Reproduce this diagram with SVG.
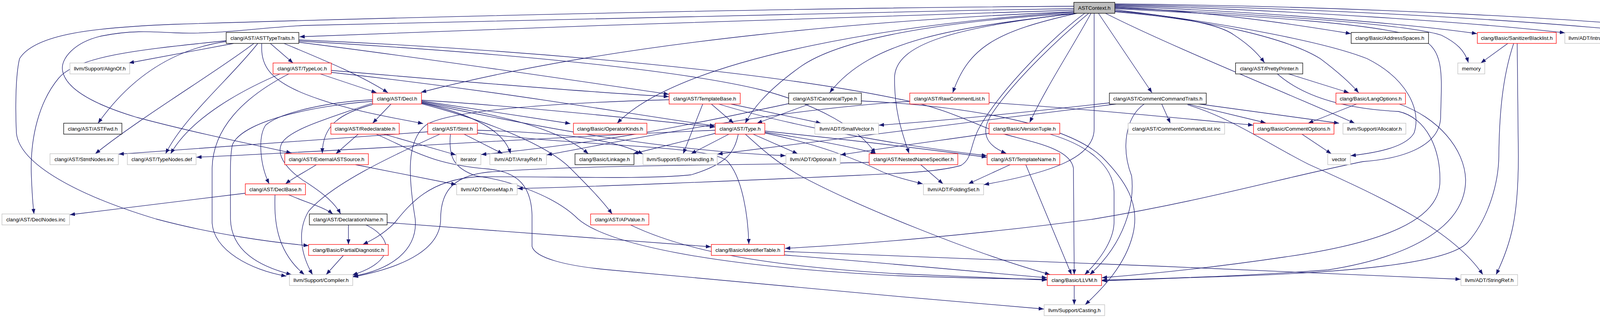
<svg xmlns="http://www.w3.org/2000/svg" width="4599" height="813" viewBox="0 0 4599 813">
<defs>
<marker id="a" viewBox="0 0 13 10" refX="13" refY="5" markerWidth="13" markerHeight="10" markerUnits="userSpaceOnUse" orient="auto"><path d="M0,0 L13,5 L0,10 z" fill="#191970"/></marker>
<style>
.e path{fill:none;stroke:#191970;stroke-width:1.3;marker-end:url(#a)}
.n rect{fill:#fff;stroke-width:1.3}
.root rect{fill:#bfbfbf;stroke:#000}
.blk rect{stroke:#000}
.red rect{stroke:#f00}
.gry rect{stroke:#bfbfbf}
.n text{font-family:"Liberation Sans",Arial,sans-serif;font-size:13.33px;text-anchor:middle;fill:#000}
</style>
</defs>
<rect width="4599" height="813" fill="#fff"/>
<g id="edges" class="e">
<path d="M2749,26 C2300,36 1400,70 767,94"/>
<path d="M2749,16 C2000,20 1000,45 448,62 C250,70 90,85 50,150 C38,200 40,300 42,340 C50,420 200,500 400,560 C550,600 700,620 790,628"/>
<path d="M2749,22 C2000,35 1200,50 780,65 C650,72 560,88 450,84 C380,80 330,78 260,92 C190,108 155,150 160,180 C168,230 250,270 350,300 C500,340 650,370 746,391"/>
<path d="M2749,30 C2300,48 1600,100 1078,236"/>
<path d="M2749,31 C2350,55 1750,140 1580,315"/>
<path d="M2752,34 C2400,55 2150,100 2050,170 C1980,220 1930,270 1908,315"/>
<path d="M2755,34 C2450,70 2230,100 2124,237"/>
<path d="M2752,34 C2450,70 2290,110 2290,200 C2290,290 2310,340 2327,392"/>
<path d="M2757,34 C2550,80 2480,120 2439,237"/>
<path d="M2793,34 C2740,130 2680,220 2636,313"/>
<path d="M2787,34 C2720,90 2600,200 2540,290 C2510,335 2520,370 2576,392"/>
<path d="M2777,34 C2700,90 2560,230 2505,330 C2482,375 2490,405 2460,423 C2400,440 2300,443 2200,448 C1900,462 1500,478 1325,482"/>
<path d="M2801,34 L2801,330 C2801,400 2700,440 2519,472"/>
<path d="M2854,22 C3200,40 3550,60 3640,100 C3700,130 3690,200 3688,300 C3686,370 3600,405 3490,413 C3300,450 3100,510 2800,560 C2500,600 2200,625 2010,635"/>
<path d="M2854,25 C3150,60 3400,110 3500,150 C3600,200 3640,280 3620,340 C3600,375 3530,390 3458,398"/>
<path d="M2854,18 C3100,30 3300,60 3458,86"/>
<path d="M2854,16 C3200,28 3600,60 3781,86"/>
<path d="M2854,20 C3200,35 3600,60 3690,90 C3730,110 3750,130 3759,160"/>
<path d="M2854,14 C3300,24 3800,60 4006,84"/>
<path d="M2854,12 C3400,20 3950,55 4225,84"/>
<path d="M2854,10 C3500,16 4100,50 4407,84"/>
<path d="M2854,28 C3000,40 3120,60 3160,90 C3190,110 3215,130 3237,160"/>
<path d="M2854,30 C3100,50 3300,100 3380,150 C3420,180 3455,210 3478,237"/>
<path d="M2830,34 C3000,120 3300,240 3468,315"/>
<path d="M2812,34 L2949,237"/>
<path d="M598,111 L330,161"/>
<path d="M579,106 C450,125 340,190 251,315"/>
<path d="M692,111 L750,161"/>
<path d="M650,111 C560,180 360,300 244,393"/>
<path d="M660,111 C590,200 470,300 424,393"/>
<path d="M579,104 C380,125 200,140 150,200 C100,260 78,350 80,440 C82,500 85,530 87,547"/>
<path d="M727,111 C820,150 920,190 993,237"/>
<path d="M670,111 C668,160 680,200 780,240 C880,280 1000,300 1083,316"/>
<path d="M765,108 C1100,150 1500,210 1712,241"/>
<path d="M765,105 C1200,130 1700,170 1950,230 C2100,270 2200,330 2241,392"/>
<path d="M765,102 C1200,120 1900,170 2300,253 C2420,275 2500,320 2560,340 C2650,365 2740,380 2748,430 L2750,702"/>
<path d="M817,188 L964,237"/>
<path d="M719,188 C620,230 490,300 437,393"/>
<path d="M741,188 C620,250 545,330 543,430 L543,570 C548,640 640,690 733,706"/>
<path d="M848,180 C1200,210 1500,235 1712,247"/>
<path d="M848,185 C1300,235 1600,290 1830,322"/>
<path d="M1001,266 L954,315"/>
<path d="M954,267 C870,290 826,320 825,392"/>
<path d="M954,255 C850,260 720,285 680,320 C660,350 665,420 689,470"/>
<path d="M954,259 C800,270 620,310 595,370 C588,400 590,450 590,560 C592,640 660,680 746,702"/>
<path d="M954,263 C850,300 740,330 721,367 C705,400 740,440 790,470 C820,490 855,515 872,547"/>
<path d="M1079,263 C1200,290 1290,330 1307,393"/>
<path d="M1079,258 L1460,316"/>
<path d="M1079,260 C1250,290 1420,320 1506,393"/>
<path d="M1079,256 C1300,270 1600,300 1830,325"/>
<path d="M1079,265 C1250,310 1400,370 1460,430 C1500,470 1540,510 1567,547"/>
<path d="M1079,262 C1400,330 1700,385 2011,398"/>
<path d="M917,343 L860,393"/>
<path d="M983,343 L1167,396"/>
<path d="M963,343 C1050,380 1100,420 1250,432 C1330,440 1360,480 1362,550 L1362,630 C1370,660 1450,680 1560,690 C1900,720 2300,760 2672,790"/>
<path d="M1095,337 C900,350 600,375 304,394"/>
<path d="M1188,343 L1287,393"/>
<path d="M1126,343 C1000,400 850,470 790,540 C760,590 770,650 800,702"/>
<path d="M1222,333 C1400,338 1560,350 1646,394"/>
<path d="M1153,343 C1148,400 1160,430 1220,450 C1300,460 1420,500 1480,560 C1550,620 1800,680 2300,705 C2500,712 2600,713 2680,714"/>
<path d="M1222,340 C1500,375 1800,370 1860,410 C1900,450 1915,550 1917,624"/>
<path d="M628,494 L179,549"/>
<path d="M704,498 C702,560 705,640 779,702"/>
<path d="M739,498 C790,520 830,530 852,547"/>
<path d="M810,421 C780,440 750,455 731,470"/>
<path d="M910,421 L1168,472"/>
<path d="M892,575 L892,625"/>
<path d="M937,575 C1010,610 1010,670 902,703"/>
<path d="M991,569 C1300,590 1600,615 1820,631"/>
<path d="M879,653 L835,702"/>
<path d="M1821,266 L1878,315"/>
<path d="M1799,266 L1749,393"/>
<path d="M1871,266 L2102,315"/>
<path d="M1713,255 C1450,262 1150,280 1090,320 C1040,360 1045,450 1063,560 C1070,640 1000,690 904,706"/>
<path d="M1840,266 C1950,300 2200,360 2526,398"/>
<path d="M2072,266 L1938,315"/>
<path d="M2019,265 C1850,300 1600,360 1232,395"/>
<path d="M2205,258 C2450,270 2720,310 2820,400 C2880,460 2920,520 2900,600 C2880,680 2820,740 2778,779"/>
<path d="M2532,262 C2800,280 3050,305 3208,320"/>
<path d="M2329,259 C2000,280 1700,340 1400,396"/>
<path d="M2974,266 L2996,315"/>
<path d="M3040,266 L3240,314"/>
<path d="M3070,266 L3428,315"/>
<path d="M2929,266 C2880,300 2870,380 2897,450 C2905,520 2880,620 2790,702"/>
<path d="M3040,268 C3150,300 3250,370 3350,420 C3550,510 3720,590 3796,702"/>
<path d="M2840,263 C2600,290 2400,310 2250,320"/>
<path d="M2857,266 C2500,310 2100,360 1837,394"/>
<path d="M2688,343 C2780,370 2850,420 2852,490 L2852,570 C2850,620 2810,670 2777,702"/>
<path d="M2532,341 C2400,360 2250,380 2152,396"/>
<path d="M2586,421 L2479,470"/>
<path d="M2626,421 L2743,702"/>
<path d="M2357,421 L2414,470"/>
<path d="M2225,415 C2000,422 1500,420 1250,440 C1150,450 1128,500 1128,560 C1128,630 1050,680 904,708"/>
<path d="M1831,333 C1400,350 900,385 503,402"/>
<path d="M1866,343 L1769,393"/>
<path d="M1928,343 L2042,393"/>
<path d="M1958,338 C2100,360 2200,380 2242,393"/>
<path d="M1958,335 C2200,360 2400,385 2526,402"/>
<path d="M1908,343 C1950,380 1980,410 2050,450 C2200,530 2500,650 2688,702"/>
<path d="M1831,341 L1621,393"/>
<path d="M1890,343 C1880,390 1860,420 1769,447 C1650,460 1400,450 1220,452 C1100,460 1050,520 1010,570 C980,600 950,615 929,625"/>
<path d="M1958,340 C2100,370 2200,410 2260,440 C2300,455 2330,462 2362,470"/>
<path d="M3473,266 L3349,315"/>
<path d="M3582,266 C3680,300 3750,380 3752,460 C3752,560 3650,650 3400,690 C3200,705 3000,712 2821,716"/>
<path d="M3296,188 L3453,237"/>
<path d="M3269,188 C3350,260 3480,280 3580,285 C3650,300 3690,380 3686,470 C3680,560 3550,620 3289,657 C3100,685 2950,700 2821,710"/>
<path d="M3333,343 L3408,393"/>
<path d="M3860,111 L3791,161"/>
<path d="M3875,111 C3845,200 3838,300 3837,400 C3836,470 3810,560 3757,620 C3700,680 3400,700 3040,710 L2821,718"/>
<path d="M3884,111 L3887,400 C3887,550 3870,620 3830,702"/>
<path d="M2750,730 L2750,779"/>
<path d="M2008,652 C2300,675 2500,695 2680,710"/>
<path d="M2008,643 C2500,660 3200,690 3739,714"/>
<path d="M1614,575 C1750,640 1950,680 2300,700 C2500,708 2600,712 2680,716"/>
</g>
<g id="ASTContext" class="n root"><rect x="2749" y="6" width="105" height="28"/><text x="2801.5" y="24.7">ASTContext.h</text></g>
<g id="ASTTypeTraits" class="n blk"><rect x="579" y="83" width="186" height="28"/><text x="672" y="101.7">clang/AST/ASTTypeTraits.h</text></g>
<g id="AddressSpaces" class="n blk"><rect x="3459" y="83" width="198" height="28"/><text x="3558" y="101.7">clang/Basic/AddressSpaces.h</text></g>
<g id="SanitizerBlacklist" class="n red"><rect x="3782" y="83" width="202" height="28"/><text x="3883" y="101.7">clang/Basic/SanitizerBlacklist.h</text></g>
<g id="IntrusiveRefCntPtr" class="n gry"><rect x="4006" y="83" width="196" height="28"/><text x="4104" y="101.7">llvm/ADT/IntrusiveRefCntPtr.h</text></g>
<g id="SmallPtrSet" class="n gry"><rect x="4226" y="83" width="158" height="28"/><text x="4305" y="101.7">llvm/ADT/SmallPtrSet.h</text></g>
<g id="TinyPtrVector" class="n gry"><rect x="4407" y="83" width="168" height="28"/><text x="4491" y="101.7">llvm/ADT/TinyPtrVector.h</text></g>
<g id="AlignOf" class="n gry"><rect x="179" y="161" width="153" height="28"/><text x="255.5" y="179.7">llvm/Support/AlignOf.h</text></g>
<g id="TypeLoc" class="n red"><rect x="699" y="161" width="149" height="28"/><text x="773.5" y="179.7">clang/AST/TypeLoc.h</text></g>
<g id="PrettyPrinter" class="n blk"><rect x="3163" y="161" width="172" height="28"/><text x="3249" y="179.7">clang/AST/PrettyPrinter.h</text></g>
<g id="memory" class="n gry"><rect x="3732" y="161" width="69" height="28"/><text x="3766.5" y="179.7">memory</text></g>
<g id="Decl" class="n red"><rect x="954" y="238" width="125" height="28"/><text x="1016.5" y="256.7">clang/AST/Decl.h</text></g>
<g id="TemplateBase" class="n red"><rect x="1713" y="238" width="182" height="28"/><text x="1804" y="256.7">clang/AST/TemplateBase.h</text></g>
<g id="CanonicalType" class="n blk"><rect x="2019" y="238" width="186" height="28"/><text x="2112" y="256.7">clang/AST/CanonicalType.h</text></g>
<g id="RawCommentList" class="n red"><rect x="2329" y="238" width="203" height="28"/><text x="2430.5" y="256.7">clang/AST/RawCommentList.h</text></g>
<g id="CommentCommandTraits" class="n blk"><rect x="2840" y="238" width="248" height="28"/><text x="2964" y="256.7">clang/AST/CommentCommandTraits.h</text></g>
<g id="LangOptions" class="n red"><rect x="3420" y="238" width="178" height="28"/><text x="3509" y="256.7">clang/Basic/LangOptions.h</text></g>
<g id="ASTFwd" class="n blk"><rect x="163" y="315" width="149" height="28"/><text x="237.5" y="333.7">clang/AST/ASTFwd.h</text></g>
<g id="Redeclarable" class="n red"><rect x="847" y="315" width="175" height="28"/><text x="934.5" y="333.7">clang/AST/Redeclarable.h</text></g>
<g id="Stmt" class="n red"><rect x="1095" y="315" width="127" height="28"/><text x="1158.5" y="333.7">clang/AST/Stmt.h</text></g>
<g id="OperatorKinds" class="n red"><rect x="1468" y="315" width="188" height="28"/><text x="1562" y="333.7">clang/Basic/OperatorKinds.h</text></g>
<g id="Type" class="n red"><rect x="1831" y="315" width="127" height="28"/><text x="1894.5" y="333.7">clang/AST/Type.h</text></g>
<g id="SmallVector" class="n gry"><rect x="2086" y="315" width="163" height="28"/><text x="2167.5" y="333.7">llvm/ADT/SmallVector.h</text></g>
<g id="VersionTuple" class="n red"><rect x="2532" y="315" width="181" height="28"/><text x="2622.5" y="333.7">clang/Basic/VersionTuple.h</text></g>
<g id="CommentCommandList" class="n gry"><rect x="2888" y="315" width="247" height="28"/><text x="3011.5" y="333.7">clang/AST/CommentCommandList.inc</text></g>
<g id="CommentOptions" class="n red"><rect x="3209" y="315" width="206" height="28"/><text x="3312" y="333.7">clang/Basic/CommentOptions.h</text></g>
<g id="Allocator" class="n gry"><rect x="3438" y="315" width="161" height="28"/><text x="3518.5" y="333.7">llvm/Support/Allocator.h</text></g>
<g id="StmtNodes" class="n gry"><rect x="128" y="393" width="175" height="28"/><text x="215.5" y="411.7">clang/AST/StmtNodes.inc</text></g>
<g id="TypeNodes" class="n gry"><rect x="326" y="393" width="176" height="28"/><text x="414" y="411.7">clang/AST/TypeNodes.def</text></g>
<g id="ExternalASTSource" class="n red"><rect x="729" y="393" width="214" height="28"/><text x="836" y="411.7">clang/AST/ExternalASTSource.h</text></g>
<g id="iterator" class="n gry"><rect x="1168" y="393" width="63" height="28"/><text x="1199.5" y="411.7">iterator</text></g>
<g id="ArrayRef" class="n gry"><rect x="1254" y="393" width="145" height="28"/><text x="1326.5" y="411.7">llvm/ADT/ArrayRef.h</text></g>
<g id="Linkage" class="n blk"><rect x="1472" y="393" width="151" height="28"/><text x="1547.5" y="411.7">clang/Basic/Linkage.h</text></g>
<g id="ErrorHandling" class="n gry"><rect x="1646" y="393" width="190" height="28"/><text x="1741" y="411.7">llvm/Support/ErrorHandling.h</text></g>
<g id="Optional" class="n gry"><rect x="2012" y="393" width="139" height="28"/><text x="2081.5" y="411.7">llvm/ADT/Optional.h</text></g>
<g id="NestedNameSpecifier" class="n red"><rect x="2225" y="393" width="227" height="28"/><text x="2338.5" y="411.7">clang/AST/NestedNameSpecifier.h</text></g>
<g id="TemplateName" class="n red"><rect x="2527" y="393" width="186" height="28"/><text x="2620" y="411.7">clang/AST/TemplateName.h</text></g>
<g id="vector" class="n gry"><rect x="3399" y="393" width="58" height="28"/><text x="3428" y="411.7">vector</text></g>
<g id="DeclBase" class="n red"><rect x="628" y="470" width="154" height="28"/><text x="705" y="488.7">clang/AST/DeclBase.h</text></g>
<g id="DenseMap" class="n gry"><rect x="1169" y="470" width="155" height="28"/><text x="1246.5" y="488.7">llvm/ADT/DenseMap.h</text></g>
<g id="FoldingSet" class="n gry"><rect x="2364" y="470" width="154" height="28"/><text x="2441" y="488.7">llvm/ADT/FoldingSet.h</text></g>
<g id="DeclNodes" class="n gry"><rect x="5" y="547" width="173" height="28"/><text x="91.5" y="565.7">clang/AST/DeclNodes.inc</text></g>
<g id="DeclarationName" class="n blk"><rect x="792" y="547" width="199" height="28"/><text x="891.5" y="565.7">clang/AST/DeclarationName.h</text></g>
<g id="APValue" class="n red"><rect x="1512" y="547" width="149" height="28"/><text x="1586.5" y="565.7">clang/AST/APValue.h</text></g>
<g id="PartialDiagnostic" class="n red"><rect x="790" y="625" width="204" height="28"/><text x="892" y="643.7">clang/Basic/PartialDiagnostic.h</text></g>
<g id="IdentifierTable" class="n red"><rect x="1821" y="625" width="187" height="28"/><text x="1914.5" y="643.7">clang/Basic/IdentifierTable.h</text></g>
<g id="Compiler" class="n gry"><rect x="741" y="702" width="162" height="28"/><text x="822" y="720.7">llvm/Support/Compiler.h</text></g>
<g id="LLVM" class="n red"><rect x="2681" y="702" width="139" height="28"/><text x="2750.5" y="720.7">clang/Basic/LLVM.h</text></g>
<g id="StringRef" class="n gry"><rect x="3740" y="702" width="145" height="28"/><text x="3812.5" y="720.7">llvm/ADT/StringRef.h</text></g>
<g id="Casting" class="n gry"><rect x="2673" y="779" width="155" height="28"/><text x="2750.5" y="797.7">llvm/Support/Casting.h</text></g>
</svg>
